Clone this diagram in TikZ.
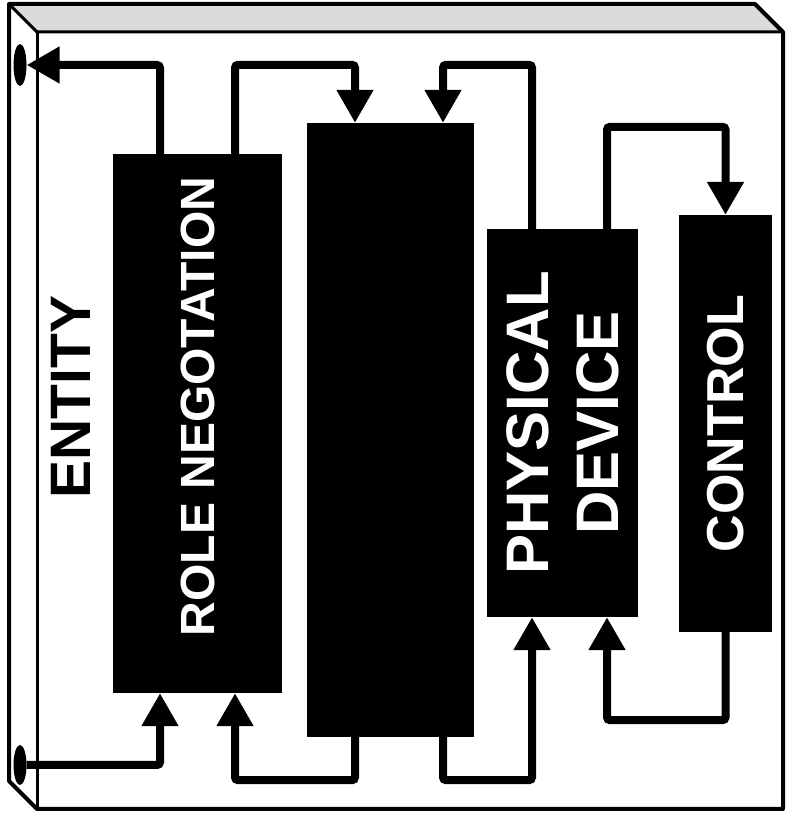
\documentclass[tikz,border=0pt]{standalone}
\usepackage{fontspec}
\setmainfont{Liberation Sans}
\usetikzlibrary{arrows.meta,positioning,shapes.geometric}

\begin{document}
\begin{tikzpicture}[x=1pt,y=1pt,>=Triangle,
  blk/.style={fill=black,draw=none,inner sep=0pt},
  port/.style={ellipse,fill=black,inner sep=0pt,minimum width=13pt,minimum height=42pt},
  lbl/.style={text=white,font=\bfseries,rotate=90,align=center,inner sep=0pt},
  flow/.style={line width=8pt,rounded corners=3pt,-{Triangle[length=33pt,width=35pt]}}]
\useasboundingbox (0,0) rectangle (788,814);
\fill[black!14] (9,810) -- (755,810) -- (783,782) -- (37,782) -- cycle;
\draw[line width=4pt,line join=round] (9,33) -- (9,810) -- (755,810) -- (783,782) -- (783,5) -- (37,5) -- cycle;
\draw[line width=3pt] (9,810) -- (37,782) -- (783,782);
\draw[line width=3pt] (37,782) -- (37,5);
\node[port] (portA) at (20,749) {};
\node[port,minimum height=40pt] (portB) at (20,49) {};
\node[blk,minimum width=169pt,minimum height=539pt] (role) at (197.5,390.5) {};
\node[blk,minimum width=167pt,minimum height=614pt] (mid) at (390.5,384) {};
\node[blk,minimum width=151pt,minimum height=388pt] (phys) at (562.5,391) {};
\node[blk,minimum width=93pt,minimum height=417pt] (ctrl) at (725.5,390.5) {};
\node[rotate=90,font=\fontsize{57}{60}\bfseries,inner sep=0pt] (entity) at (71,417) {ENTITY};
\node[lbl,font=\fontsize{48}{50}\bfseries] (roleTxt) at ([yshift=17pt]role.center) {ROLE NEGOTATION};
\node[lbl,font=\fontsize{60}{70}\bfseries] (physTxt) at (phys.center) {PHYSICAL\\DEVICE};
\node[lbl,font=\fontsize{52}{56}\bfseries] (ctrlTxt) at (ctrl.center) {CONTROL};
\draw[flow] ([xshift=-37.5pt]role.north) |- (portA.east);
\draw[flow] ([xshift=37.5pt]role.north) -- ++(0,89) -| ([xshift=-35.5pt]mid.north);
\draw[flow] ([xshift=-30.5pt]phys.north) -- ++(0,164) -| ([xshift=52.5pt]mid.north);
\draw[flow] ([xshift=44.5pt]phys.north) -- ++(0,102) -| (ctrl.north);
\draw[flow] (portB.east) -| ([xshift=-37.5pt]role.south);
\draw[flow] ([xshift=-35.5pt]mid.south) -- ++(0,-43) -| ([xshift=37.5pt]role.south);
\draw[flow] ([xshift=52.5pt]mid.south) -- ++(0,-43) -| ([xshift=-30.5pt]phys.south);
\draw[flow] (ctrl.south) -- ++(0,-88) -| ([xshift=44.5pt]phys.south);
\end{tikzpicture}
\end{document}
